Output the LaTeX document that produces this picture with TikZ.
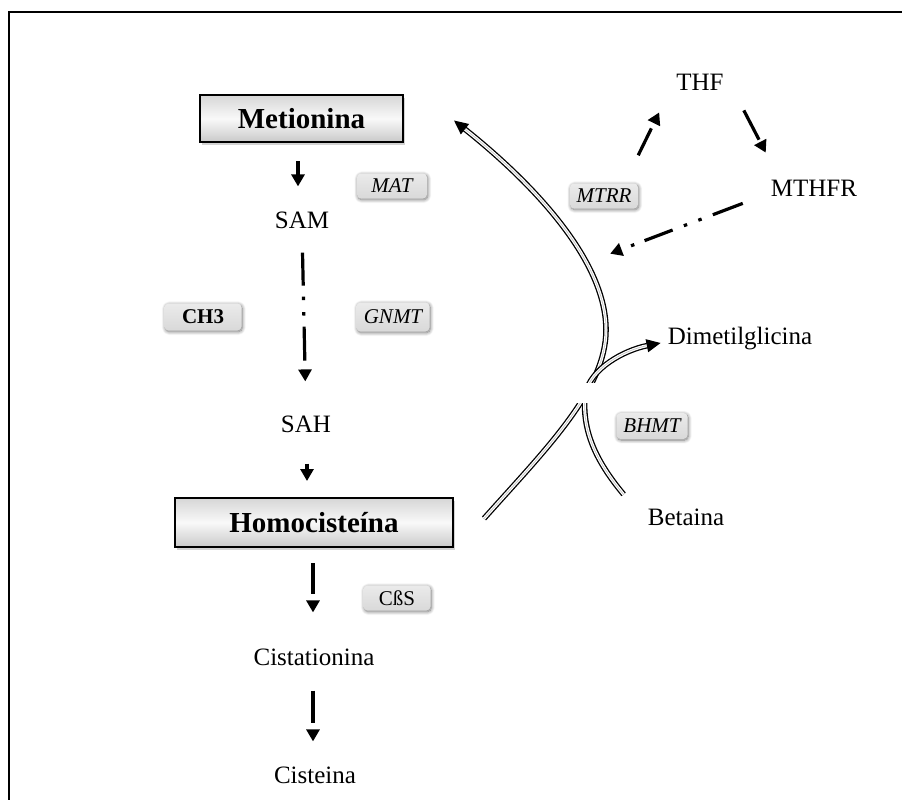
\documentclass[tikz,border=0pt]{standalone}
\usepackage{fontspec}
\setmainfont{Liberation Serif}
\usetikzlibrary{arrows.meta,calc,shadows,shadows.blur}
\tikzset{
  txt/.style={inner sep=0pt, font=\fontsize{25}{29}\selectfont},
  mainbox/.style={draw=black, line width=2pt, inner sep=0pt,
    top color=gray!32, bottom color=gray!42, middle color=gray!5,
    drop shadow={shadow xshift=2pt, shadow yshift=-2.5pt, opacity=0.35},
    font=\fontsize{29}{32}\selectfont\bfseries},
  enz/.style={rounded corners=4pt, inner sep=0pt, minimum height=25pt,
    top color=gray!16, bottom color=gray!30,
    blur shadow={shadow xshift=0.8pt, shadow yshift=-1.2pt, shadow blur radius=3.5pt, shadow blur steps=8, shadow opacity=55},
    font=\fontsize{21}{24}\selectfont\itshape},
  arr/.style={line width=3.2pt, -{Triangle[length=12pt,width=13pt]}},
  dbl/.style={draw=black, line width=1.3pt, double=white, double distance=3pt},
  mid/.style={draw=gray!45, line width=0.7pt},
}
\begin{document}
\begin{tikzpicture}[x=1pt,y=-1pt]
\useasboundingbox (0,0) rectangle (902,800);
% frame
\draw[line width=2.2pt] (9,800) -- (9,12) -- (902,12);

% left column
\node[mainbox, minimum width=203pt, minimum height=47pt] (met) at (301.5,118.5) {Metionina};
\node[txt] (sam) at (302,220) {SAM};
\node[txt] (sah) at (306,424) {SAH};
\node[mainbox, minimum width=278pt, minimum height=49pt] (homo) at (314,522.5) {Homocisteína};
\node[txt] (cist) at (314,657) {Cistationina};
\node[txt] (cis) at (315,775) {Cisteina};

% right side texts
\node[txt] (thf) at (700,82) {THF};
\node[txt] (mthfr) at (814,188) {MTHFR};
\node[txt] (dmg) at (740,339) {Dimetilglicina};
\node[txt] (bet) at (686,517) {Betaina};

% vertical arrows
\draw[arr, shorten <=18pt, shorten >=25pt] ([xshift=-3.5pt]met.south) -- ([xshift=-4pt]sam.north);
\draw[arr, shorten <=24pt, shorten >=34pt,
  dash pattern=on 33pt off 11pt on 3.5pt off 12pt on 3.5pt off 11pt on 34pt off 40pt]
  (sam.south) -- (sah.north);
\draw[arr, shorten <=31pt, shorten >=16pt] ([xshift=1pt]sah.south) -- ([xshift=-7pt]homo.north);
\draw[arr, shorten <=15pt, shorten >=36pt, dash pattern=on 31pt off 40pt]
  ([xshift=-1pt]homo.south) -- ([xshift=-1pt]cist.north);
\draw[arr, shorten <=25pt, shorten >=25pt, dash pattern=on 32pt off 40pt]
  ([xshift=-1pt]cist.south) -- ([xshift=-2pt]cis.north);

% enzyme labels
\node[enz, minimum width=70pt] (mat) at (392,186) {MAT};
\node[enz, minimum width=77pt, minimum height=27pt, font=\fontsize{21}{24}\selectfont\bfseries] (ch3) at (203,317) {CH3};
\node[enz, minimum width=73pt, minimum height=29pt] (gnmt) at (393,317) {GNMT};
\node[enz, minimum width=68pt] (mtrr) at (604,196) {MTRR};
\node[enz, minimum width=71pt, minimum height=26pt] (bhmt) at (652,426) {BHMT};
\node[enz, minimum width=67pt, font=\fontsize{21}{24}\selectfont] (cbs) at (397,598) {CßS};

% folate cycle arrows
\draw[arr, dash pattern=on 30pt off 40pt]
  ($(mtrr.north east)+(0,-28)$) -- ($(thf.south west)+(-17,22)$);
\draw[arr, dash pattern=on 33pt off 40pt]
  ($(thf.south east)+(20,20)$) -- ($(mthfr.north west)+(-5,-27)$);
\draw[arr, dash pattern=on 32pt off 12pt on 3.5pt off 12pt on 3.5pt off 12pt on 30pt off 11pt on 3.5pt off 50pt]
  ($(mthfr.south west)+(-28,7)$) -- ($(mtrr.south east)+(-28,45)$);

% double-line curves
\draw[dbl, -{Triangle[length=14pt,width=13pt]}]
  ($(homo.east)+(30,-4)$) .. controls (545,450) and (606,390) .. (606,330)
  .. controls (606,250) and (510,165) .. ($(met.east)+(50,2)$);
\draw[mid, shorten >=14pt]
  ($(homo.east)+(30,-4)$) .. controls (545,450) and (606,390) .. (606,330)
  .. controls (606,250) and (510,165) .. ($(met.east)+(50,2)$);
\draw[dbl, -{Triangle[length=14pt,width=13pt]}]
  ($(bet.north west)+(-24,-14)$) .. controls (595,460) and (582,430) .. (585,395)
  .. controls (590,368) and (625,350) .. ($(dmg.west)+(-7,4)$);
\draw[mid, shorten >=14pt]
  ($(bet.north west)+(-24,-14)$) .. controls (595,460) and (582,430) .. (585,395)
  .. controls (590,368) and (625,350) .. ($(dmg.west)+(-7,4)$);
% white patch hiding the crossing
\fill[white] (505,383) rectangle (640,403);
\end{tikzpicture}
\end{document}
